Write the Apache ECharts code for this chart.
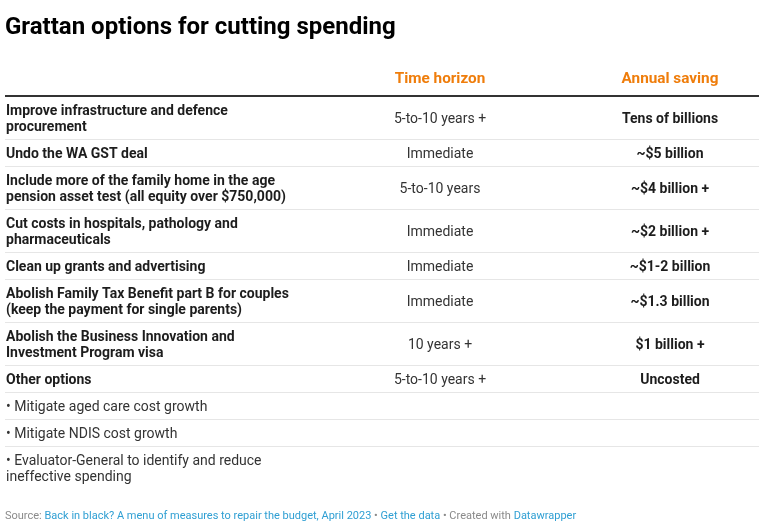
<!DOCTYPE html>
<html>
<head>
<meta charset="utf-8">
<script src="https://cdn.jsdelivr.net/npm/echarts@6/dist/echarts.min.js"></script>
<style>html,body{margin:0;padding:0;background:#fff}#c{width:774px;height:529px}</style>
</head>
<body>
<div id="c"></div>
<script>
// ---- data ----
const headers = ['Time horizon', 'Annual saving'];
const optionLabels = [
  'Improve infrastructure and defence\nprocurement',
  'Undo the WA GST deal',
  'Include more of the family home in the age\npension asset test (all equity over $750,000)',
  'Cut costs in hospitals, pathology and\npharmaceuticals',
  'Clean up grants and advertising',
  'Abolish Family Tax Benefit part B for couples\n(keep the payment for single parents)',
  'Abolish the Business Innovation and\nInvestment Program visa',
  'Other options',
  '• Mitigate aged care cost growth',
  '• Mitigate NDIS cost growth',
  '• Evaluator-General to identify and reduce\nineffective spending'
];
const timeHorizon = ['5-to-10 years +', 'Immediate', '5-to-10 years', 'Immediate', 'Immediate', 'Immediate', '10 years +', '5-to-10 years +', '', '', ''];
const annualSaving = ['Tens of billions', '~$5 billion', '~$4 billion +', '~$2 billion +', '~$1-2 billion', '~$1.3 billion', '$1 billion +', 'Uncosted', '', '', ''];
const boldLabel = [true, true, true, true, true, true, true, true, false, false, false];

// ---- layout (style) ----
const FONT = 'Roboto, "Noto Sans", sans-serif';
const LINE_H = 16, ROW_PAD = 11, HEADER_H = 36, TABLE_W = 754;
const COL0_X = 1, COL1_X = 435, COL2_X = 665;
const TEXT_DY = 2;

// row geometry derived from line counts
const rows = [];
let acc = 0;
optionLabels.forEach((t, i) => {
  const lines = t.split('\n').length;
  const h = ROW_PAD + LINE_H * lines;
  rows.push([i, acc, h]);
  acc += h;
});
const totalH = acc;
const seriesData = [[-1, -HEADER_H, HEADER_H]].concat(rows);

function renderItem(params, api) {
  const i = api.value(0), y0 = api.value(1), h = api.value(2);
  const top = api.coord([0, y0])[1], bot = api.coord([0, y0 + h])[1];
  const cy = (top + bot) / 2 + TEXT_DY;
  const xL = api.coord([0, 0])[0], xR = api.coord([TABLE_W, 0])[0];
  const x0 = api.coord([COL0_X, 0])[0], x1 = api.coord([COL1_X, 0])[0], x2 = api.coord([COL2_X, 0])[0];
  const children = [];
  if (i < 0) {
    [x1, x2].forEach((x, k) => children.push({
      type: 'text', style: { text: headers[k], x: x, y: cy - 1, align: 'center', verticalAlign: 'middle',
        font: 'bold 15.3px ' + FONT, fill: '#ef7d0b' }
    }));
    children.push({ type: 'line', shape: { x1: xL, y1: bot, x2: xR, y2: bot }, style: { stroke: '#333333', lineWidth: 2 } });
    return { type: 'group', children };
  }
  children.push({ type: 'text', style: { text: optionLabels[i], x: x0, y: cy, align: 'left', verticalAlign: 'middle',
    font: (boldLabel[i] ? 'bold ' : '') + '14px ' + FONT, lineHeight: LINE_H, fill: boldLabel[i] ? '#1d1d1d' : '#333333' } });
  children.push({ type: 'text', style: { text: timeHorizon[i], x: x1, y: cy, align: 'center', verticalAlign: 'middle',
    font: '14px ' + FONT, fill: '#333333' } });
  children.push({ type: 'text', style: { text: annualSaving[i], x: x2, y: cy, align: 'center', verticalAlign: 'middle',
    font: 'bold 14px ' + FONT, fill: '#1d1d1d' } });
  if (i < optionLabels.length - 1) {
    const yy = Math.round(bot) + 0.5;
    children.push({ type: 'line', shape: { x1: xL, y1: yy, x2: xR, y2: yy }, style: { stroke: '#e6e6e6', lineWidth: 1 } });
  }
  return { type: 'group', children };
}

const chart = echarts.init(document.getElementById('c'), null, { renderer: 'canvas' });
chart.setOption({
  animation: false,
  title: [
    { text: 'Grattan options for cutting spending', left: 0, top: 11,
      textStyle: { fontFamily: FONT, fontSize: 24, fontWeight: 'bold', color: '#000000' } },
    { text: '{g|Source: }{b|Back in black? A menu of measures to repair the budget, April 2023}{g| • }{b|Get the data}{g| • Created with }{b|Datawrapper}',
      left: 0, bottom: 2,
      textStyle: { fontWeight: 'normal', rich: {
        g: { fontFamily: FONT, fontSize: 11, fontWeight: 'normal', color: '#8a8a8a' },
        b: { fontFamily: FONT, fontSize: 11, fontWeight: 'normal', color: '#2f9fd3' } } } }
  ],
  grid: { left: 5, right: 15, top: 60, height: HEADER_H + totalH },
  xAxis: { type: 'value', min: 0, max: TABLE_W, show: false },
  yAxis: { type: 'value', min: -HEADER_H, max: totalH, inverse: true, show: false },
  series: [{ type: 'custom', renderItem: renderItem, data: seriesData, clip: false }]
});
</script>
</body>
</html>
